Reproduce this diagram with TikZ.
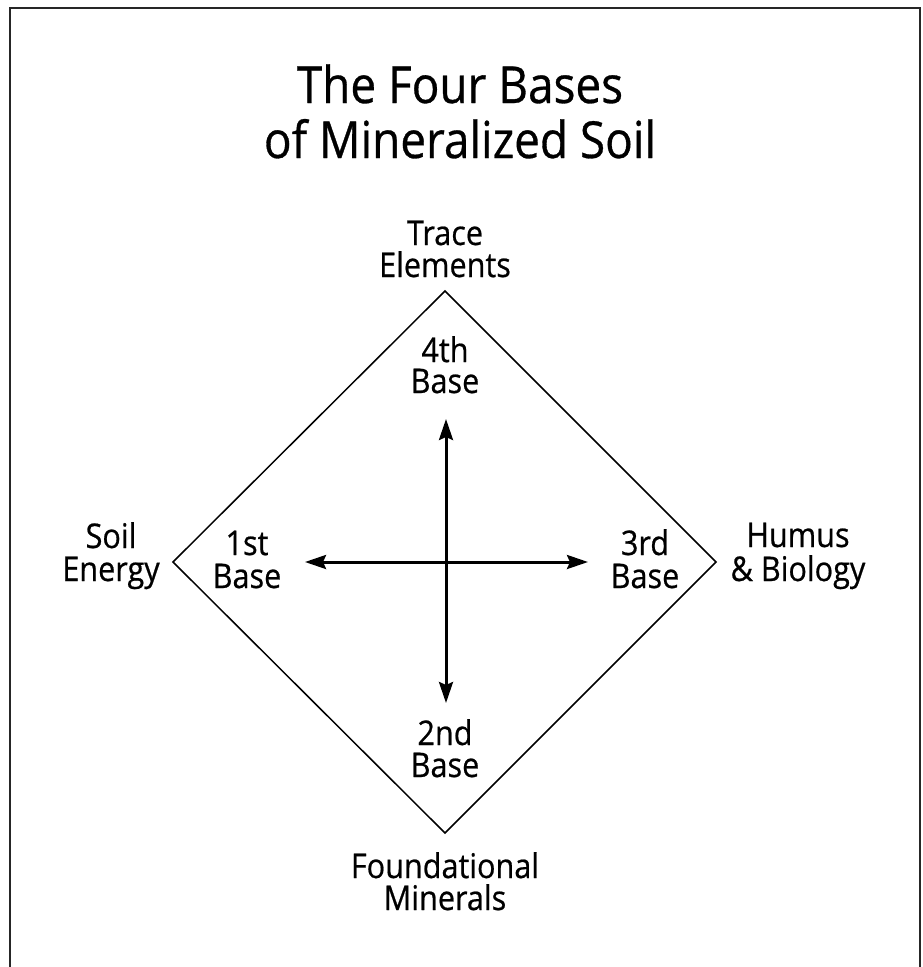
\documentclass[tikz,border=0pt]{standalone}
\usepackage{fontspec}
\setmainfont{Open Sans}[FakeStretch=0.9, FakeBold=0.6]
\usetikzlibrary{arrows.meta}
\begin{document}
\begin{tikzpicture}[x=1pt,y=-1pt,
  lbl/.style={font=\fontsize{34}{34}\selectfont, anchor=base, inner sep=0pt, text height=23.5pt, text depth=4.5pt},
  ttl/.style={font=\fontsize{51}{51}\selectfont, anchor=base, inner sep=0pt},
  diam/.style={draw=black, line width=1.5pt, line join=miter},
  axis/.style={draw=black, line width=3pt, {Stealth[length=21pt,width=14pt,inset=3pt]}-{Stealth[length=21pt,width=14pt,inset=3pt]}},
  frame/.style={draw=black!85, line width=2pt}]
\useasboundingbox (0,0) rectangle (923,967);
\draw[frame] (10,990) -- (10,8) -- (920,8) -- (920,990);
% title
\node[ttl] (t1) at (460,103) {The Four Bases};
\node[ttl] (t2) at (460,158) {of Mineralized Soil};
% diamond
\coordinate (dT) at (445,291);
\coordinate (dR) at (716,562);
\coordinate (dB) at (445,833);
\coordinate (dL) at (173,562);
\draw[diam] (dT) -- (dR) -- (dB) -- (dL) -- cycle;
% axes
\coordinate (aL) at (305,562);
\coordinate (aR) at (588,562);
\coordinate (aT) at (446,419);
\coordinate (aB) at (446,703);
\draw[axis] (aL) -- (aR);
\draw[axis] (aT) -- (aB);
% outer labels
\node[lbl] (te1) at (445,245) {Trace};
\node[lbl] (te2) at (445,277) {Elements};
\node[lbl] (se1) at (111,548) {Soil};
\node[lbl] (se2) at (111,581) {Energy};
\node[lbl] (hb1) at (798,547) {Humus};
\node[lbl] (hb2) at (798,581) {\& Biology};
\node[lbl] (fm1) at (445,878) {Foundational};
\node[lbl] (fm2) at (445,910) {Minerals};
% inner labels
\node[lbl] (b41) at (445,362) {4th};
\node[lbl] (b42) at (445,393) {Base};
\node[lbl] (b11) at (247,555) {1st};
\node[lbl] (b12) at (247,588) {Base};
\node[lbl] (b31) at (645,555) {3rd};
\node[lbl] (b32) at (645,588) {Base};
\node[lbl] (b21) at (445,745) {2nd};
\node[lbl] (b22) at (445,777) {Base};
\end{tikzpicture}
\end{document}
